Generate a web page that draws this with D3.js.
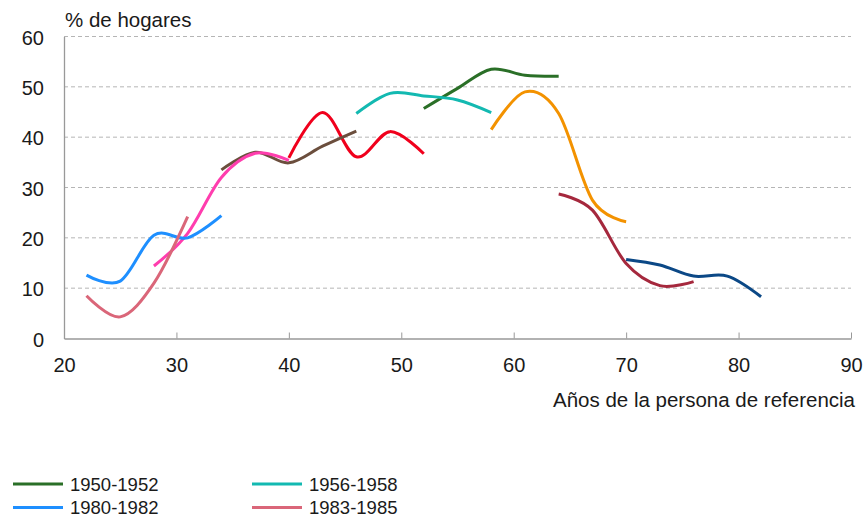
<!DOCTYPE html>
<html>
<head>
<meta charset="utf-8">
<script src="https://cdn.jsdelivr.net/npm/d3@7"></script>
<style>
  body { margin: 0; background: #fff; }
  text { font-family: "Liberation Sans", Arial, sans-serif; fill: #1a1a1a; }
</style>
</head>
<body>
<svg id="chart" width="864" height="518"></svg>
<script>
// Share of households (%) by age of the reference person, one line per birth cohort
const cohorts = ["1932-1934", "1938-1940", "1944-1946", "1950-1952", "1956-1958",
                 "1962-1964", "1968-1970", "1974-1976", "1980-1982", "1983-1985"];

const ages1932 = [70, 73, 76, 79, 82];
const vals1932 = [15.7, 14.6, 12.4, 12.4, 8.3];

const ages1938 = [64, 67, 70, 73, 76];
const vals1938 = [28.7, 25.5, 14.9, 10.5, 11.3];

const ages1944 = [58, 61, 64, 67, 70];
const vals1944 = [41.5, 49.0, 44.7, 27.5, 23.2];

const ages1950 = [52, 55, 58, 61, 64];
const vals1950 = [45.7, 49.7, 53.5, 52.3, 52.1];

const ages1956 = [46, 49, 52, 55, 58];
const vals1956 = [44.7, 48.7, 48.2, 47.4, 44.9];

const ages1962 = [40, 43, 46, 49, 52];
const vals1962 = [35.9, 44.9, 36.1, 41.1, 36.7];

const ages1968 = [34, 37, 40, 43, 46];
const vals1968 = [33.5, 37.0, 34.9, 38.2, 41.2];

const ages1974 = [28, 31, 34, 37, 40];
const vals1974 = [14.4, 20.9, 32.0, 36.8, 35.4];

const ages1980 = [22, 25, 28, 31, 34];
const vals1980 = [12.6, 11.4, 20.5, 20.0, 24.4];

const ages1983 = [22, 25, 28, 31];
const vals1983 = [8.5, 4.3, 11.0, 24.2];

const colors = ["#0b4886", "#a5283d", "#f39200", "#2a6f27", "#13b9b1",
                "#f0001c", "#6b4e3d", "#ff3dae", "#1e8fff", "#da6679"];

const xTicks = [20, 30, 40, 50, 60, 70, 80, 90];
const yTicks = [0, 10, 20, 30, 40, 50, 60];
const legendCohorts = ["1950-1952", "1956-1958", "1980-1982", "1983-1985"];

const agesList = [ages1932, ages1938, ages1944, ages1950, ages1956,
                  ages1962, ages1968, ages1974, ages1980, ages1983];
const valsList = [vals1932, vals1938, vals1944, vals1950, vals1956,
                  vals1962, vals1968, vals1974, vals1980, vals1983];

const series = cohorts.map((name, i) => ({
  name,
  color: colors[i],
  points: agesList[i].map((a, j) => ({ age: a, value: valsList[i][j] }))
}));

const svg = d3.select("#chart");
const plot = { left: 64, right: 851, top: 36.5, bottom: 338.5 };

const x = d3.scaleLinear().domain([20, 90]).range([plot.left, plot.right]);
const y = d3.scaleLinear().domain([0, 60]).range([plot.bottom, plot.top]);

// dashed horizontal gridlines
svg.append("g")
  .selectAll("line")
  .data(yTicks.filter(d => d > 0))
  .join("line")
  .attr("x1", plot.left).attr("x2", plot.right)
  .attr("y1", d => y(d)).attr("y2", d => y(d))
  .attr("stroke", "#b5b5b5")
  .attr("stroke-width", 1)
  .attr("stroke-dasharray", "4,3");

// y axis
const yAxis = svg.append("g")
  .attr("transform", `translate(${plot.left},0)`)
  .call(d3.axisLeft(y).tickValues(yTicks).tickSize(0).tickPadding(20));
yAxis.select(".domain").attr("stroke", "#999").attr("stroke-width", 1.3);
yAxis.selectAll("text").style("font-size", "20px").attr("fill", "#1a1a1a").attr("dy", "0.38em");

// x axis with inward ticks
const xAxis = svg.append("g")
  .attr("transform", `translate(0,${plot.bottom})`)
  .call(d3.axisBottom(x).tickValues(xTicks).tickSizeInner(-6).tickSizeOuter(0).tickPadding(19));
xAxis.select(".domain").attr("stroke", "#999").attr("stroke-width", 1.3);
xAxis.selectAll(".tick line").attr("stroke", "#999");
xAxis.selectAll("text").style("font-size", "20px").attr("fill", "#1a1a1a");

// axis titles
svg.append("text")
  .attr("x", plot.left + 1).attr("y", 27)
  .style("font-size", "20.5px")
  .text("% de hogares");

svg.append("text")
  .attr("x", 855).attr("y", 407)
  .attr("text-anchor", "end")
  .style("font-size", "20.5px")
  .text("Años de la persona de referencia");

// cohort lines
const line = d3.line()
  .x(d => x(d.age))
  .y(d => y(d.value))
  .curve(d3.curveCardinal.tension(0));

svg.append("g")
  .selectAll("path")
  .data(series)
  .join("path")
  .attr("d", d => line(d.points))
  .attr("fill", "none")
  .attr("stroke", d => d.color)
  .attr("stroke-width", 3);

// legend
const legendData = legendCohorts.map(n => series.find(s => s.name === n));
const legend = svg.append("g")
  .selectAll("g")
  .data(legendData)
  .join("g")
  .attr("transform", (d, i) => `translate(${13 + (i % 2) * 239},${484 + Math.floor(i / 2) * 23.5})`);

legend.append("line")
  .attr("x1", 0).attr("x2", 50)
  .attr("stroke", d => d.color)
  .attr("stroke-width", 3);

legend.append("text")
  .attr("x", 57).attr("y", 6.5)
  .style("font-size", "18.5px")
  .text(d => d.name);
</script>
</body>
</html>
